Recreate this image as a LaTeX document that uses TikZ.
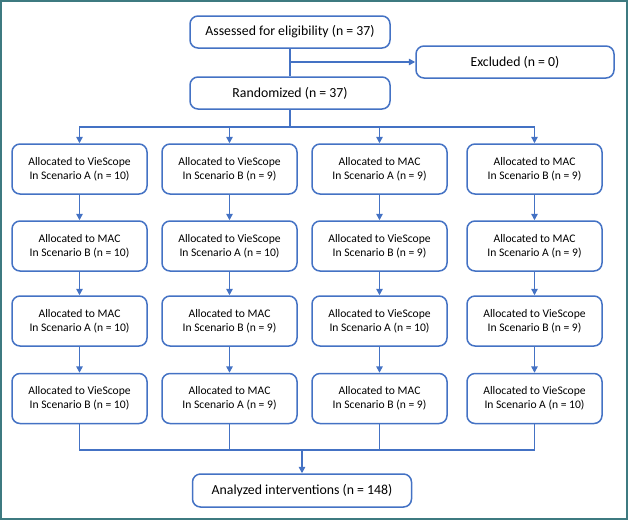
\documentclass[tikz,border=0pt]{standalone}
\usepackage{fontspec}
\setmainfont{Carlito}
\usepackage{xcolor}
\usetikzlibrary{arrows.meta, positioning}
\definecolor{flowblue}{RGB}{68,114,196}
\definecolor{frameteal}{RGB}{62,122,128}

\begin{document}
\begin{tikzpicture}[
  x=1pt, y=-1pt,
  box/.style={rectangle, rounded corners=8pt, draw=flowblue, line width=1.5pt,
              fill=white, minimum width=135pt, minimum height=50pt, inner sep=2pt,
              align=center, font=\fontsize{11.6}{14}\selectfont},
  wide/.style={box, minimum width=200pt, minimum height=32pt,
               font=\fontsize{13.8}{16}\selectfont},
  arr/.style={-{Triangle[length=6.5pt,width=6.5pt]}, draw=flowblue, line width=1.5pt},
  lnk/.style={draw=flowblue, line width=1.5pt}
]
% Frame
\draw[frameteal, line width=2pt] (1,1) rectangle (627,519);

% Column x positions
\def\xA{79.5}
\def\xB{229.5}
\def\xC{379.5}
\def\xD{534.5}
% Row y positions
\def\yA{169}
\def\yB{246}
\def\yC{321}
\def\yD{398.5}

% Enrolment
\node[wide]                       (assess) at (290,32)  {Assessed for eligibility (n = 37)};
\node[wide, minimum width=198pt]  (excl)   at (515,62)  {Excluded (n = 0)};
\node[wide]                       (rand)   at (290,93)  {Randomized (n = 37)};

% Column A
\node[box] (a1) at (\xA,\yA) {Allocated to VieScope\\In Scenario A (n = 10)};
\node[box] (a2) at (\xA,\yB) {Allocated to MAC\\In Scenario B (n = 10)};
\node[box] (a3) at (\xA,\yC) {Allocated to MAC\\In Scenario A (n = 10)};
\node[box] (a4) at (\xA,\yD) {Allocated to VieScope\\In Scenario B (n = 10)};

% Column B
\node[box] (b1) at (\xB,\yA) {Allocated to VieScope\\In Scenario B (n = 9)};
\node[box] (b2) at (\xB,\yB) {Allocated to VieScope\\In Scenario A (n = 10)};
\node[box] (b3) at (\xB,\yC) {Allocated to MAC\\In Scenario B (n = 9)};
\node[box] (b4) at (\xB,\yD) {Allocated to MAC\\In Scenario A (n = 9)};

% Column C
\node[box] (c1) at (\xC,\yA) {Allocated to MAC\\In Scenario A (n = 9)};
\node[box] (c2) at (\xC,\yB) {Allocated to VieScope\\In Scenario B (n = 9)};
\node[box] (c3) at (\xC,\yC) {Allocated to VieScope\\In Scenario A (n = 10)};
\node[box] (c4) at (\xC,\yD) {Allocated to MAC\\In Scenario B (n = 9)};

% Column D
\node[box] (d1) at (\xD,\yA) {Allocated to MAC\\In Scenario B (n = 9)};
\node[box] (d2) at (\xD,\yB) {Allocated to MAC\\In Scenario A (n = 9)};
\node[box] (d3) at (\xD,\yC) {Allocated to VieScope\\In Scenario B (n = 9)};
\node[box] (d4) at (\xD,\yD) {Allocated to VieScope\\In Scenario A (n = 10)};

% Analysis
\node[wide, minimum width=219pt, minimum height=33pt] (anal) at (302,490.5) {Analyzed interventions (n = 148)};

% Junction points
\coordinate (split) at (290,62);
\coordinate (fork)  at (290,127);
\coordinate (join)  at (302,450);

% Arrows
\draw[lnk] (assess) -- (rand);
\draw[arr] (split) -- (excl);
\draw[lnk] (rand) -- (fork);
\draw[arr] (fork) -| (a1);
\draw[arr] (fork) -| (b1);
\draw[arr] (fork) -| (c1);
\draw[arr] (fork) -| (d1);
\draw[arr] (a1) -- (a2);
\draw[arr] (a2) -- (a3);
\draw[arr] (a3) -- (a4);
\draw[arr] (b1) -- (b2);
\draw[arr] (b2) -- (b3);
\draw[arr] (b3) -- (b4);
\draw[arr] (c1) -- (c2);
\draw[arr] (c2) -- (c3);
\draw[arr] (c3) -- (c4);
\draw[arr] (d1) -- (d2);
\draw[arr] (d2) -- (d3);
\draw[arr] (d3) -- (d4);
\draw[lnk] (a4) |- (join);
\draw[lnk] (b4) |- (join);
\draw[lnk] (c4) |- (join);
\draw[lnk] (d4) |- (join);
\draw[arr] (join) -- (anal);
\end{tikzpicture}
\end{document}
